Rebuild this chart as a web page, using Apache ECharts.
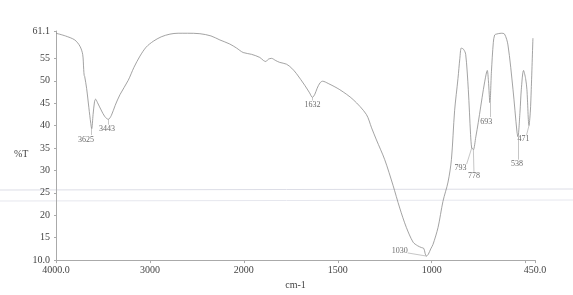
<!DOCTYPE html>
<html>
<head>
<meta charset="utf-8">
<script src="https://cdn.jsdelivr.net/npm/echarts@6/dist/echarts.min.js"></script>
<style>
  html, body { margin: 0; padding: 0; background: #fff; }
  #chart { width: 573px; height: 295px; }
</style>
</head>
<body>
<div id="chart"></div>
<script>
// wavenumber (cm-1) and %T
var wavenumbers = [4000, 3900, 3800, 3745, 3716, 3705, 3700, 3695, 3674, 3650, 3630, 3620, 3605, 3590, 3578,
  3560, 3520, 3480, 3443, 3410, 3370, 3319, 3231, 3170, 3106, 3040, 2965, 2880, 2787, 2700, 2600, 2468,
  2350, 2255, 2150, 2078, 2007, 1959, 1915, 1895, 1883, 1870, 1853, 1830, 1809, 1773, 1745, 1720, 1676,
  1650, 1635, 1622, 1610, 1595, 1581, 1551, 1489, 1418, 1348, 1320, 1294, 1250, 1206, 1170, 1135, 1099,
  1075, 1055, 1042, 1035, 1028, 1018, 1005, 993, 966, 940, 913, 895, 878, 860, 850, 842, 830, 819, 805,
  793, 787, 782, 778, 765, 752, 725, 710, 704, 698, 690, 682, 672, 665, 656, 630, 612, 594, 567, 546, 541,
  530, 523, 511, 500, 493, 482, 475, 470, 461];
var transmittance = [60.6, 60.0, 59.1, 57.7, 55.9, 52.5, 51.2, 51.0, 48.3, 44.0, 40.5, 39.3, 42.5, 45.3, 45.9,
  45.2, 43.5, 42.0, 41.4, 42.3, 44.5, 46.9, 50.1, 53.0, 55.5, 57.5, 58.8, 59.8, 60.4, 60.6, 60.6, 60.5,
  60.0, 59.1, 58.2, 57.3, 56.3, 55.9, 55.2, 54.5, 54.3, 54.8, 55.0, 54.5, 54.1, 53.7, 52.8, 51.6, 49.0,
  47.3, 46.3, 47.0, 48.3, 49.5, 49.9, 49.4, 48.0, 45.8, 42.5, 39.5, 36.8, 32.4, 26.7, 21.6, 17.3, 14.0,
  13.2, 12.8, 12.6, 11.5, 10.9, 11.3, 12.5, 13.5, 17.3, 23.1, 27.4, 32.4, 43.3, 50.5, 55.0, 57.3, 57.0, 55.9, 48.0,
  38.0, 35.0, 34.9, 34.6, 37.5, 40.7, 48.0, 51.5, 52.3, 50.0, 45.1, 52.0, 58.5, 60.2, 60.4, 60.6, 60.4, 58.0, 48.0, 38.6, 37.5,
  43.0, 48.0, 52.3, 50.5, 48.0, 40.0, 43.0, 48.0, 59.5];

var xTicks = [4000, 3000, 2000, 1500, 1000, 450];
var xTickText = ['4000.0', '3000', '2000', '1500', '1000', '450.0'];
var yTicks = [10, 15, 20, 25, 30, 35, 40, 45, 50, 55, 61.1];

var peakLabels = ['3625', '3443', '1632', '1030', '793', '778', '693', '538', '471'];
var peakAt = [[3620, 39.3], [3443, 41.4], [1635, 46.3], [1028, 10.9], [787, 35.0], [778, 34.6], [690, 45.1], [541, 37.5], [482, 40.0]];
var labelAt = [[3681, 36.8], [3457, 39.2], [1635, 44.7], [1170, 12.0], [847, 30.5], [775, 28.7], [709, 40.9], [546, 31.4], [511, 37.1]];
var leaderEnd = [[3620, 37.9], [3443, 40.2], [1635, 45.6], [1128, 11.6], [814, 31.4], [775, 29.7], [690, 41.9], [541, 32.4], [495, 37.9]];

// chart scale doubles below 2000 cm-1
function toU(w) {
  return w >= 2000 ? (4000 - w) / 1000 : 2 + (2000 - w) / 500;
}

var spectrum = wavenumbers.map(function (w, i) { return [toU(w), transmittance[i]]; });
var labelData = peakLabels.map(function (t, i) { return [toU(labelAt[i][0]), labelAt[i][1], t]; });
var leaders = peakLabels.map(function (t, i) {
  return [{ coord: [toU(peakAt[i][0]), peakAt[i][1]] }, { coord: [toU(leaderEnd[i][0]), leaderEnd[i][1]] }];
});
var xTickU = xTicks.map(toU);

var font = 'Liberation Serif';
var chart = echarts.init(document.getElementById('chart'));
chart.setOption({
  animation: false,
  backgroundColor: '#fff',
  grid: { left: 56, right: 38, top: 31, bottom: 28 },
  xAxis: {
    type: 'value',
    min: 0,
    max: toU(450),
    name: 'cm-1',
    nameLocation: 'middle',
    nameGap: 19,
    nameTextStyle: { fontFamily: font, fontSize: 10, color: '#444' },
    splitLine: { show: false },
    axisLine: { lineStyle: { color: '#aaa', width: 1 } },
    axisTick: { customValues: xTickU.slice(0, 5).concat([toU(500), toU(450)]), length: 3, lineStyle: { color: '#aaa' } },
    axisLabel: {
      customValues: xTickU,
      margin: 5,
      fontFamily: font, fontSize: 10, color: '#444',
      formatter: function (v) {
        var i = xTickU.findIndex(function (u) { return Math.abs(u - v) < 1e-6; });
        return i >= 0 ? xTickText[i] : '';
      }
    }
  },
  yAxis: {
    type: 'value',
    min: 10,
    max: 61.1,
    splitLine: { show: false },
    axisLine: { show: true, lineStyle: { color: '#aaa', width: 1 } },
    axisTick: { customValues: yTicks, length: 2, lineStyle: { color: '#aaa' } },
    axisLabel: {
      customValues: yTicks,
      margin: 6,
      fontFamily: font, fontSize: 10, color: '#444',
      formatter: function (v) {
        if (v === 10) return '10.0';
        if (v === 61.1) return '61.1';
        return String(v);
      }
    }
  },
  graphic: [
    { type: 'text', left: 14, top: 149, style: { text: '%T', font: '10px "Liberation Serif"', fill: '#444' } },
    { type: 'line', shape: { x1: 0, y1: 190, x2: 573, y2: 189 }, style: { stroke: '#dcdde6', lineWidth: 1 }, z: -1 },
    { type: 'line', shape: { x1: 0, y1: 201, x2: 573, y2: 200 }, style: { stroke: '#e6e7ee', lineWidth: 1 }, z: -1 }
  ],
  series: [
    {
      type: 'line',
      data: spectrum,
      smooth: 0.3,
      showSymbol: false,
      lineStyle: { color: '#8c8c8c', width: 0.8 },
      markLine: {
        silent: true,
        symbol: 'none',
        label: { show: false },
        lineStyle: { color: '#a0a0a0', width: 0.6, type: 'solid' },
        data: leaders
      }
    },
    {
      type: 'scatter',
      data: labelData,
      symbolSize: 1,
      itemStyle: { color: 'transparent' },
      label: {
        show: true,
        position: 'inside',
        fontFamily: font,
        fontSize: 8,
        color: '#444',
        formatter: function (p) { return p.data[2]; }
      }
    }
  ]
});
</script>
</body>
</html>
